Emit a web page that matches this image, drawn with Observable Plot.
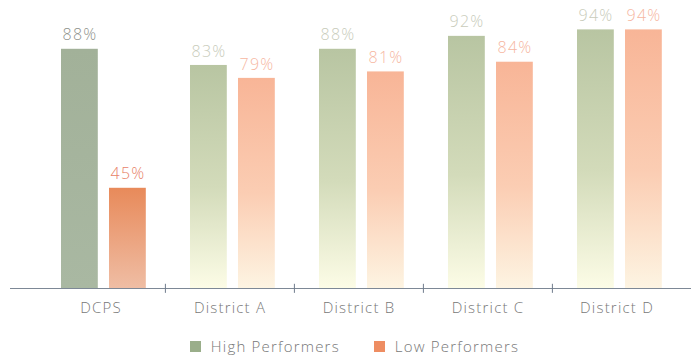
<!DOCTYPE html>
<html>
<head>
<meta charset="utf-8">
<script src="https://cdn.jsdelivr.net/npm/d3@7"></script>
<script src="https://cdn.jsdelivr.net/npm/@observablehq/plot@0.6"></script>
<style>
  html, body { margin: 0; padding: 0; background: #fff; }
  #chart { width: 691px; height: 362px; position: relative; font-family: "Open Sans", sans-serif; }
  .legend { display: flex; justify-content: center; align-items: center; height: 32px; padding-left: 18px; font-size: 15px; font-weight: 300; letter-spacing: 1.2px; color: #777; }
  .legend .item { display: flex; align-items: center; margin: 0 17px; }
  .legend .sw { width: 11px; height: 11px; margin-right: 10px; }
</style>
</head>
<body>
<div id="chart"></div>
<script>
const districts = ["DCPS", "District A", "District B", "District C", "District D"];
const highPerformers = [88, 83, 88, 92, 94];
const lowPerformers = [45, 79, 81, 84, 94];
const seriesNames = ["High Performers", "Low Performers"];
const yBase = 14;

const rows = [];
districts.forEach((d, i) => {
  rows.push({district: d, series: seriesNames[0], value: highPerformers[i]});
  rows.push({district: d, series: seriesNames[1], value: lowPerformers[i]});
});
const high = rows.filter(r => r.series === seriesNames[0]);
const low = rows.filter(r => r.series === seriesNames[1]);

const W = 691, H = 330, mL = 35, mR = 10, mT = 10, mB = 42;
const bw = (W - mL - mR) / districts.length;

const fillFor = (r) => {
  const solid = r.district === "DCPS";
  if (r.series === seriesNames[0]) return solid ? "url(#gHighSolid)" : "url(#gHighFade)";
  return solid ? "url(#gLowSolid)" : "url(#gLowFade)";
};
const labelColor = (r) => {
  const solid = r.district === "DCPS";
  if (r.series === seriesNames[0]) return solid ? "#8f938c" : "#c9ccbb";
  return solid ? "#e8836a" : "#f6b7a2";
};

const plot = Plot.plot({
  width: W, height: H,
  marginLeft: mL, marginRight: mR, marginTop: mT, marginBottom: mB,
  style: {fontFamily: "Open Sans, sans-serif", background: "white"},
  x: {domain: districts, padding: 0, label: null},
  y: {domain: [yBase, 100], axis: null},
  marks: [
    Plot.barY(high, {x: "district", y1: yBase, y2: "value", fill: fillFor, insetLeft: 25, insetRight: bw - 62}),
    Plot.barY(low, {x: "district", y1: yBase, y2: "value", fill: fillFor, insetLeft: 73, insetRight: bw - 110}),
    Plot.text(high, {x: "district", y: "value", text: d => d.value + "%", dx: -21, dy: -14, fill: labelColor, fontSize: 16, fontWeight: 300}),
    Plot.text(low, {x: "district", y: "value", text: d => d.value + "%", dx: 27, dy: -14, fill: labelColor, fontSize: 16, fontWeight: 300}),
    Plot.ruleY([yBase], {stroke: "#7d8896", strokeWidth: 1.2, insetLeft: -25, insetRight: -10}),
    Plot.ruleX(districts.slice(1), {x: d => d, dx: -bw / 2, y1: yBase - 1.5, y2: yBase + 1.3, stroke: "#6f7c8c", strokeWidth: 1}),
    Plot.axisX({tickSize: 0, tickPadding: 14, fontSize: 15, fontWeight: 300, fill: "#777", label: null})
  ]
});

const svg = d3.select(plot);
const defs = svg.insert("defs", ":first-child");
function grad(id, stops) {
  const g = defs.append("linearGradient").attr("id", id).attr("x1", 0).attr("y1", 0).attr("x2", 0).attr("y2", 1);
  stops.forEach(([o, c]) => g.append("stop").attr("offset", o).attr("stop-color", c));
}
grad("gHighSolid", [[0, "#a2b199"], [1, "#a9b8a2"]]);
grad("gLowSolid", [[0, "#e88a5a"], [1, "#efbda4"]]);
grad("gHighFade", [[0, "#b8c5a2"], [0.55, "#d3dbba"], [1, "#fcfce6"]]);
grad("gLowFade", [[0, "#f8b597"], [0.55, "#fbcdb3"], [1, "#fdf4e2"]]);
svg.selectAll("text").style("letter-spacing", "1.2px");

const chart = document.getElementById("chart");
chart.appendChild(plot);

const colors = ["#9aae8a", "#ee8d62"];
const legend = document.createElement("div");
legend.className = "legend";
seriesNames.forEach((s, i) => {
  const it = document.createElement("div");
  it.className = "item";
  const sw = document.createElement("span");
  sw.className = "sw";
  sw.style.background = colors[i];
  const tx = document.createElement("span");
  tx.textContent = s;
  it.appendChild(sw); it.appendChild(tx);
  legend.appendChild(it);
});
chart.appendChild(legend);
</script>
</body>
</html>
